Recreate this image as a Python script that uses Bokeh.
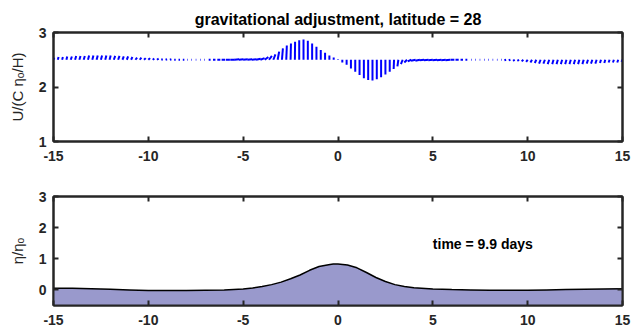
import numpy as np
from bokeh.plotting import figure
from bokeh.models import LinearAxis, FixedTicker, Label, ColumnDataSource
from bokeh.layouts import column
from bokeh.embed import file_html
from bokeh.resources import INLINE

# ---------------- data ----------------
title_text = "gravitational adjustment, latitude = 28"
time_text = "time = 9.9 days"
x_ticks = [-15, -10, -5, 0, 5, 10, 15]
x_tick_labels = ["-15", "-10", "-5", "0", "5", "10", "15"]
top_y_ticks = [1, 2, 3]
bot_y_ticks = [0, 1, 2, 3]

# quiver grid (133 arrows from -15 to 15), base line at U = 2.5
q_start, q_end, q_n = -15.0, 15.0, 133
q_base = 2.5
# arrow components (x extent in x-units, y extent in y-units)
q_du = ([0.04] * 4 + [0.06] * 10 + [0.07] * 5 + [0.09] * 6 + [0.08] * 6 + [0.03] * 5 +
        [0.10, 0.13, 0.16, 0.19, 0.21] + [0.24] * 7 +
        [0.22, 0.19, 0.15, 0.11, 0.08, 0.05, 0.03, 0.02, 0.01] + [0.0] * 22 +
        [-0.02, -0.05, -0.09, -0.14, -0.19] + [-0.24] * 9 +
        [-0.21, -0.17, -0.13, -0.10] + [-0.03] * 8 + [-0.09] * 5 + [-0.08] * 6 +
        [-0.07] * 11 + [-0.05] * 6)
q_dv = [0.04, 0.05, 0.05, 0.06, 0.06, 0.07, 0.07, 0.07, 0.08, 0.08,
        0.08, 0.08, 0.08, 0.08, 0.07, 0.07, 0.06, 0.06, 0.05, 0.04,
        0.04, 0.03, 0.03, 0.02, 0.02, 0.01, 0.01, 0.01, 0.00, 0.00,
        0.00, 0.00, 0.00, 0.00, 0.00, 0.00, 0.00, 0.00, 0.00, 0.00,
        0.00, 0.00, 0.01, 0.01, 0.01, 0.01, 0.01, 0.02, 0.03, 0.05,
        0.07, 0.10, 0.15, 0.21, 0.26, 0.30, 0.33, 0.36, 0.37, 0.35,
        0.30, 0.24, 0.18, 0.13, 0.08, 0.04, 0.01, -0.05, -0.09, -0.16,
        -0.22, -0.28, -0.34, -0.37, -0.38, -0.36, -0.32, -0.27, -0.22, -0.17,
        -0.12, -0.08, -0.05, -0.03, -0.02, -0.02, -0.01, -0.01, -0.01, -0.01,
        -0.01, -0.01, -0.01, 0.00, 0.00, 0.00, 0.00, 0.00, 0.00, 0.00,
        0.00, 0.00, 0.00, 0.00, 0.00, -0.01, -0.01, -0.02, -0.02, -0.03,
        -0.04, -0.05, -0.06, -0.07, -0.07, -0.08, -0.08, -0.08, -0.08, -0.08,
        -0.08, -0.08, -0.08, -0.08, -0.07, -0.07, -0.07, -0.06, -0.06, -0.05,
        -0.05, -0.05, -0.04, -0.04][:q_n]

# surface elevation eta/eta_o
eta_x = [-15, -14, -13, -12, -11, -10, -9, -8, -7, -6, -5, -4.5, -4, -3.5, -3,
         -2.5, -2, -1.5, -1, -0.5, -0.25, 0, 0.25, 0.5, 1, 1.5, 2, 2.5, 3, 3.5,
         4, 5, 6, 7, 8, 9, 10, 11, 12, 13, 14, 15]
eta_y = [0.05, 0.05, 0.04, 0.02, 0.0, -0.02, -0.02, -0.02, -0.01, 0.0, 0.03, 0.06,
         0.11, 0.17, 0.25, 0.36, 0.48, 0.63, 0.75, 0.81, 0.83, 0.83, 0.82, 0.80,
         0.71, 0.56, 0.40, 0.27, 0.17, 0.11, 0.07, 0.03, 0.01, 0.0, -0.01, -0.01,
         -0.01, 0.0, 0.01, 0.02, 0.03, 0.04]

FONT = "Liberation Sans"
AX = "#262626"


def style_axis(ax, ticks, show_labels, labels=None):
    ax.ticker = FixedTicker(ticks=ticks)
    ax.major_tick_in = 5
    ax.major_tick_out = 0
    ax.minor_tick_in = 0
    ax.minor_tick_out = 0
    ax.major_tick_line_color = AX
    ax.major_tick_line_width = 2
    ax.axis_line_color = AX
    ax.axis_line_width = 2
    if show_labels:
        ax.major_label_text_font = FONT
        ax.major_label_text_font_style = "bold"
        ax.major_label_text_font_size = "14px"
        ax.major_label_text_color = AX
        if labels is not None:
            ax.major_label_overrides = {t: s for t, s in zip(ticks, labels)}
    else:
        ax.major_label_overrides = {t: "" for t in ticks}
        ax.major_label_standoff = 0


def make_fig(height, yr, yticks, b_top, b_bot, ylabel, title=None):
    kw = {}
    if title is not None:
        kw["title"] = title
    p = figure(width=632, height=height, x_range=(-15, 15), y_range=yr,
               output_backend="svg", toolbar_location=None,
               min_border_left=53, min_border_right=10,
               min_border_top=b_top, min_border_bottom=b_bot, **kw)
    p.xgrid.visible = False
    p.ygrid.visible = False
    p.outline_line_color = AX
    p.outline_line_width = 2
    p.background_fill_color = "white"
    p.border_fill_color = "white"
    style_axis(p.xaxis[0], x_ticks, True, x_tick_labels)
    style_axis(p.yaxis[0], yticks, True)
    p.xaxis[0].major_label_standoff = 9
    p.yaxis[0].major_label_standoff = 7
    p.yaxis[0].axis_label = ylabel
    p.yaxis[0].axis_label_text_font = FONT
    p.yaxis[0].axis_label_text_font_style = "normal"
    p.yaxis[0].axis_label_text_font_size = "15px"
    p.yaxis[0].axis_label_text_color = AX
    p.yaxis[0].axis_label_standoff = 10
    top_ax = LinearAxis()
    style_axis(top_ax, x_ticks, False)
    p.add_layout(top_ax, "above")
    right_ax = LinearAxis()
    style_axis(right_ax, yticks, False)
    p.add_layout(right_ax, "right")
    return p


# ---------------- top panel: velocity vectors ----------------
p1 = make_fig(168, (1, 3), top_y_ticks, 32, 27, "U/(C ηₒ/H)", title=title_text)
p1.title.text_font = FONT
p1.title.text_font_size = "16px"
p1.title.text_font_style = "bold"
p1.title.text_color = "black"
p1.title.align = "center"

qx = np.linspace(q_start, q_end, q_n)
du = np.array(q_du)
dv = np.array(q_dv)
qsrc = ColumnDataSource(dict(x0=qx, y0=np.full(q_n, q_base),
                             x1=qx + du, y1=q_base + dv))
p1.segment(x0="x0", y0="y0", x1="x1", y1="y1", source=qsrc,
           line_color="#0000ff", line_width=2)

# ---------------- bottom panel: eta ----------------
p2 = make_fig(167, (-0.5, 3), bot_y_ticks, 28, 30, "η/ηₒ")
esrc = ColumnDataSource(dict(x=eta_x, y=eta_y, base=[-0.5] * len(eta_x)))
p2.varea(x="x", y1="base", y2="y", source=esrc, fill_color="#9999cc")
p2.line(x="x", y="y", source=esrc, line_color="black", line_width=1.5)
p2.add_layout(Label(x=5, y=1.48, text=time_text, text_font=FONT,
                    text_font_size="14px", text_font_style="bold",
                    text_color="black", text_baseline="middle", text_align="left"))

layout = column(p1, p2, spacing=0)
open("out.html", "w").write(file_html(layout, INLINE))
